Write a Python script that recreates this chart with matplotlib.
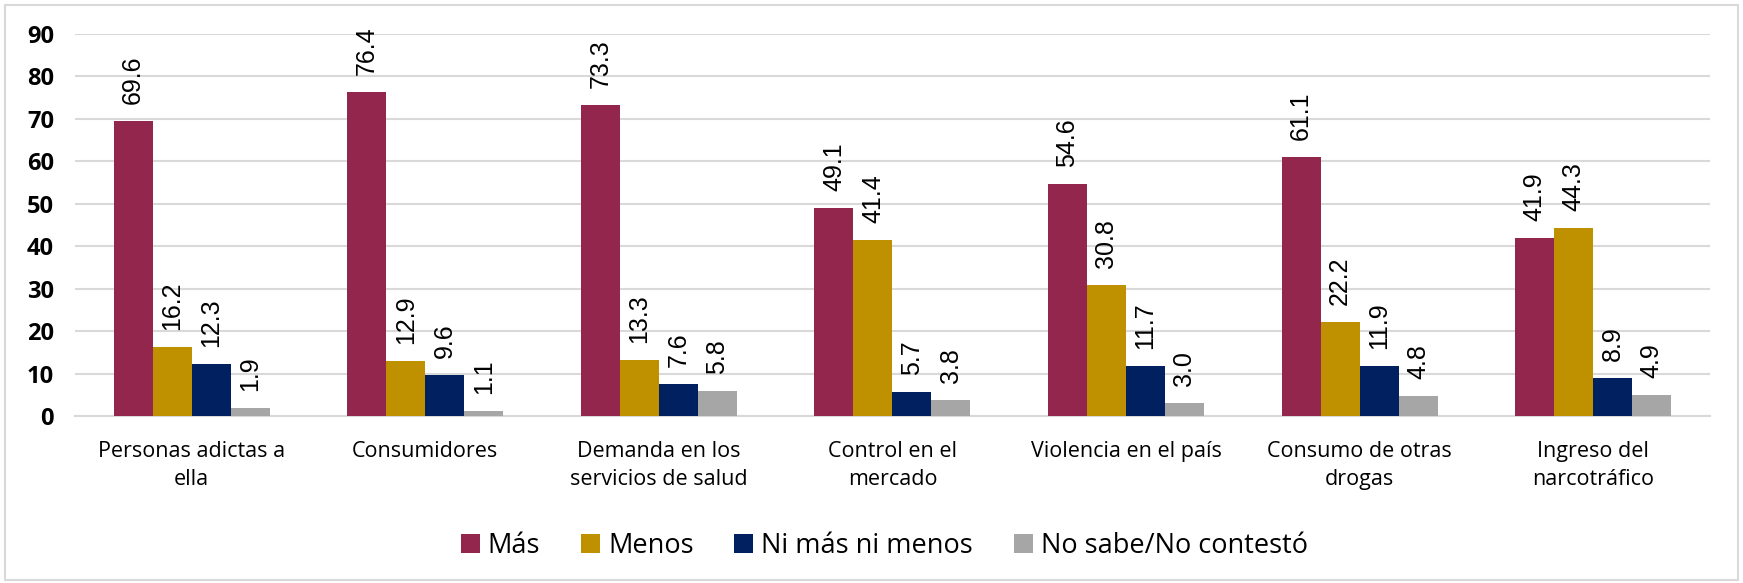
import numpy as np
import matplotlib.pyplot as plt
from matplotlib.patches import Rectangle

categories = ["Personas adictas a\nella", "Consumidores", "Demanda en los\nservicios de salud",
              "Control en el\nmercado", "Violencia en el país", "Consumo de otras\ndrogas",
              "Ingreso del\nnarcotráfico"]
series_names = ["Más", "Menos", "Ni más ni menos", "No sabe/No contestó"]
mas = [69.6, 76.4, 73.3, 49.1, 54.6, 61.1, 41.9]
menos = [16.2, 12.9, 13.3, 41.4, 30.8, 22.2, 44.3]
ni = [12.3, 9.6, 7.6, 5.7, 11.7, 11.9, 8.9]
nosabe = [1.9, 1.1, 5.8, 3.8, 3.0, 4.8, 4.9]
colors = ["#93264c", "#bf9000", "#002060", "#a6a6a6"]

fig = plt.figure(figsize=(17.43, 5.83), dpi=100)
ax = fig.add_axes([0.043, 0.2864, 0.938, 0.6553])
fig.patches.append(Rectangle((0.003, 0.006), 0.994, 0.985, transform=fig.transFigure,
                             fill=False, edgecolor="#d9d9d9", linewidth=1.5))

x = np.arange(len(categories))
w = 0.167
for i, (vals, col) in enumerate(zip([mas, menos, ni, nosabe], colors)):
    pos = x + (i - 1.5) * w
    ax.bar(pos, vals, width=w, color=col, label=series_names[i], zorder=3)
    for p, v in zip(pos, vals):
        ax.text(p, v + 4.0, f"{v:.1f}", rotation=90, ha="center", va="bottom",
                fontsize=18, family="Liberation Sans", zorder=4)

ax.set_xlim(-0.5, len(categories) - 0.5)
ax.set_ylim(0, 90)
ax.set_yticks(range(0, 91, 10))
ax.set_xticks(x)
ax.set_xticklabels(categories, fontsize=15.5, family="Open Sans", linespacing=1.45)
for t in ax.get_yticklabels():
    t.set_fontweight("bold")
    t.set_fontsize(17)
    t.set_family("Open Sans")
ax.tick_params(axis="both", length=0)
ax.tick_params(axis="x", pad=18)
ax.tick_params(axis="y", pad=15)
ax.grid(axis="y", color="#d9d9d9", linewidth=1.5, zorder=0)
for s in ["top", "right", "left"]:
    ax.spines[s].set_visible(False)
ax.spines["bottom"].set_color("#d9d9d9")
ax.spines["bottom"].set_linewidth(1.5)

ax.legend(loc="center", bbox_to_anchor=(0.495, -0.34), ncol=4, frameon=False,
          prop={"family": "Open Sans", "size": 19.5}, handlelength=0.7, handleheight=0.7,
          handletextpad=0.3, columnspacing=1.5)

fig.savefig("out.png", dpi=100)
